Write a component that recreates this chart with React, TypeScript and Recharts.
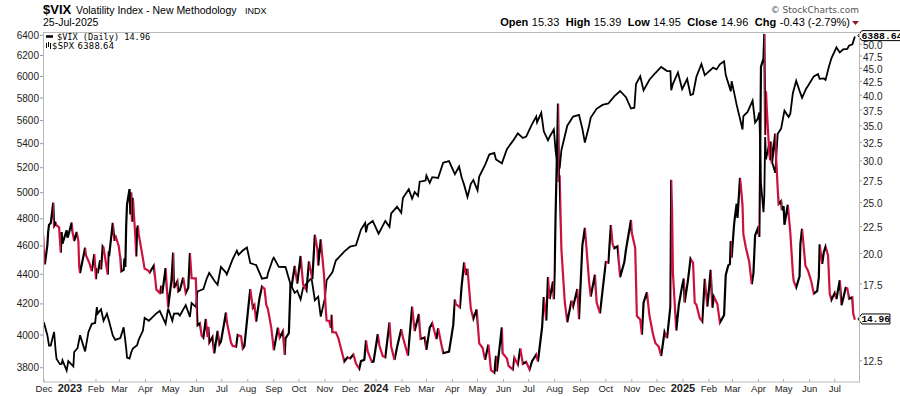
import React from 'react';
import { LineChart, Line, XAxis, YAxis, ReferenceDot } from 'recharts';

const FONT = '"Liberation Sans", Arial, sans-serif';
const RED = '#cc1040';

// ---------- $VIX daily closes (selected sessions) ----------
const vixDates = [
  '2022-11-29', '2022-11-30',
  '2022-12-01', '2022-12-02', '2022-12-05', '2022-12-06', '2022-12-07', '2022-12-09', '2022-12-12', '2022-12-13', '2022-12-15', '2022-12-16', '2022-12-19', '2022-12-21', '2022-12-22', '2022-12-23', '2022-12-28', '2022-12-29', '2022-12-30',
  '2023-01-03', '2023-01-04', '2023-01-06', '2023-01-09', '2023-01-11', '2023-01-12', '2023-01-13', '2023-01-19', '2023-01-20', '2023-01-24', '2023-01-27', '2023-01-30',
  '2023-02-01', '2023-02-02', '2023-02-03', '2023-02-06', '2023-02-07', '2023-02-09', '2023-02-10', '2023-02-15', '2023-02-16', '2023-02-17', '2023-02-21', '2023-02-23', '2023-02-24', '2023-02-28',
  '2023-03-02', '2023-03-03', '2023-03-06', '2023-03-07', '2023-03-08', '2023-03-09', '2023-03-10', '2023-03-13', '2023-03-14', '2023-03-15', '2023-03-16', '2023-03-17', '2023-03-20', '2023-03-21', '2023-03-22', '2023-03-23', '2023-03-24', '2023-03-28', '2023-03-31',
  '2023-04-04', '2023-04-06', '2023-04-11', '2023-04-14', '2023-04-18', '2023-04-20', '2023-04-21', '2023-04-25', '2023-04-28',
  '2023-05-02', '2023-05-04', '2023-05-05', '2023-05-09', '2023-05-10', '2023-05-12', '2023-05-16', '2023-05-19', '2023-05-22', '2023-05-24', '2023-05-26', '2023-05-31',
  '2023-06-02', '2023-06-05', '2023-06-07', '2023-06-09', '2023-06-12', '2023-06-14', '2023-06-15', '2023-06-16', '2023-06-20', '2023-06-22', '2023-06-26', '2023-06-28', '2023-06-30',
  '2023-07-06', '2023-07-07', '2023-07-12', '2023-07-14', '2023-07-18', '2023-07-20', '2023-07-24', '2023-07-26', '2023-07-28',
  '2023-08-02', '2023-08-04', '2023-08-07', '2023-08-09', '2023-08-11', '2023-08-15', '2023-08-18', '2023-08-21', '2023-08-23', '2023-08-25', '2023-08-29', '2023-08-31',
  '2023-09-01', '2023-09-06', '2023-09-08', '2023-09-12', '2023-09-14', '2023-09-15', '2023-09-19', '2023-09-21', '2023-09-22', '2023-09-26', '2023-09-29',
  '2023-10-03', '2023-10-06', '2023-10-10', '2023-10-13', '2023-10-17', '2023-10-20', '2023-10-23', '2023-10-24', '2023-10-27', '2023-10-31',
  '2023-11-02', '2023-11-03', '2023-11-06', '2023-11-08', '2023-11-09', '2023-11-10', '2023-11-14', '2023-11-17', '2023-11-22', '2023-11-24', '2023-11-28',
  '2023-12-01', '2023-12-05', '2023-12-08', '2023-12-12', '2023-12-14', '2023-12-18', '2023-12-20', '2023-12-22', '2023-12-27', '2023-12-29',
  '2024-01-03', '2024-01-05', '2024-01-09', '2024-01-12', '2024-01-17', '2024-01-19', '2024-01-23', '2024-01-26', '2024-01-31',
  '2024-02-02', '2024-02-08', '2024-02-13', '2024-02-16', '2024-02-21', '2024-02-23', '2024-02-28',
  '2024-03-01', '2024-03-05', '2024-03-08', '2024-03-13', '2024-03-15', '2024-03-21', '2024-03-28',
  '2024-04-02', '2024-04-04', '2024-04-05', '2024-04-10', '2024-04-12', '2024-04-15', '2024-04-17', '2024-04-19', '2024-04-23', '2024-04-26', '2024-04-30',
  '2024-05-03', '2024-05-07', '2024-05-10', '2024-05-14', '2024-05-17', '2024-05-21', '2024-05-23', '2024-05-24', '2024-05-30', '2024-05-31',
  '2024-06-05', '2024-06-07', '2024-06-12', '2024-06-14', '2024-06-18', '2024-06-21', '2024-06-24', '2024-06-28',
  '2024-07-02', '2024-07-05', '2024-07-10', '2024-07-12', '2024-07-17', '2024-07-19', '2024-07-22', '2024-07-24', '2024-07-26', '2024-07-30', '2024-07-31',
  '2024-08-01', '2024-08-02', '2024-08-05', '2024-08-06', '2024-08-07', '2024-08-08', '2024-08-09', '2024-08-13', '2024-08-16', '2024-08-21', '2024-08-23', '2024-08-28', '2024-08-30',
  '2024-09-03', '2024-09-06', '2024-09-09', '2024-09-11', '2024-09-13', '2024-09-18', '2024-09-20', '2024-09-24', '2024-09-27',
  '2024-10-01', '2024-10-04', '2024-10-07', '2024-10-09', '2024-10-11', '2024-10-15', '2024-10-18', '2024-10-23', '2024-10-25', '2024-10-31',
  '2024-11-01', '2024-11-05', '2024-11-07', '2024-11-11', '2024-11-13', '2024-11-15', '2024-11-19', '2024-11-22', '2024-11-26', '2024-11-29',
  '2024-12-03', '2024-12-06', '2024-12-10', '2024-12-13', '2024-12-17', '2024-12-18', '2024-12-19', '2024-12-20', '2024-12-24', '2024-12-27', '2024-12-31',
  '2025-01-02', '2025-01-03', '2025-01-07', '2025-01-10', '2025-01-13', '2025-01-15', '2025-01-17', '2025-01-21', '2025-01-24', '2025-01-27', '2025-01-30', '2025-01-31',
  '2025-02-03', '2025-02-05', '2025-02-07', '2025-02-11', '2025-02-14', '2025-02-19', '2025-02-21', '2025-02-24', '2025-02-26', '2025-02-27', '2025-02-28',
  '2025-03-03', '2025-03-04', '2025-03-06', '2025-03-07', '2025-03-10', '2025-03-11', '2025-03-13', '2025-03-14', '2025-03-17', '2025-03-19', '2025-03-21', '2025-03-24', '2025-03-26', '2025-03-28', '2025-03-31',
  '2025-04-02', '2025-04-03', '2025-04-04', '2025-04-07', '2025-04-08', '2025-04-09', '2025-04-10', '2025-04-11', '2025-04-14', '2025-04-15', '2025-04-16', '2025-04-17', '2025-04-21', '2025-04-22', '2025-04-24', '2025-04-25', '2025-04-28', '2025-04-29',
  '2025-05-01', '2025-05-02', '2025-05-06', '2025-05-09', '2025-05-12', '2025-05-13', '2025-05-16', '2025-05-20', '2025-05-21', '2025-05-23', '2025-05-27', '2025-05-30',
  '2025-06-03', '2025-06-06', '2025-06-10', '2025-06-12', '2025-06-13', '2025-06-16', '2025-06-18', '2025-06-20', '2025-06-23', '2025-06-25', '2025-06-27',
  '2025-07-01', '2025-07-03', '2025-07-07', '2025-07-09', '2025-07-11', '2025-07-14', '2025-07-16', '2025-07-18', '2025-07-22', '2025-07-23', '2025-07-25',
];
const vixValues = [
  21.89, 21.6,
  19.84, 19.06, 20.75, 22.0, 22.68, 22.83, 25.0, 22.55, 22.83, 22.62, 22.42, 20.07, 21.97, 20.87, 22.14, 21.44, 21.67,
  22.9, 22.01, 21.13, 21.97, 21.09, 18.83, 18.35, 20.52, 19.85, 19.2, 18.51, 19.94,
  17.87, 18.73, 18.33, 19.43, 18.66, 20.63, 20.53, 18.23, 20.17, 20.02, 22.87, 21.14, 21.67, 20.7,
  19.59, 18.49, 18.61, 19.59, 18.86, 22.61, 24.8, 26.52, 23.73, 26.14, 22.99, 25.51, 21.38, 19.75, 22.26, 22.61, 21.74, 19.97, 18.7,
  18.58, 18.4, 18.97, 17.07, 16.83, 17.37, 16.77, 18.76, 15.78,
  17.78, 20.09, 17.19, 17.71, 16.94, 17.03, 17.99, 16.81, 17.21, 20.03, 17.95, 17.94,
  14.6, 14.73, 13.94, 13.83, 15.01, 13.88, 14.5, 13.54, 13.88, 12.91, 14.25, 13.43, 13.59,
  15.44, 14.83, 13.54, 13.34, 13.3, 13.99, 13.91, 13.19, 13.33,
  15.99, 17.1, 15.77, 15.96, 14.84, 16.46, 17.3, 17.13, 15.98, 15.68, 14.45, 13.57,
  13.09, 14.45, 13.84, 14.23, 12.82, 13.79, 14.11, 17.54, 17.2, 18.94, 17.52,
  19.78, 17.45, 17.03, 19.32, 17.88, 21.71, 20.37, 18.97, 21.27, 18.14,
  15.66, 14.91, 14.89, 14.45, 15.29, 14.17, 14.16, 13.8, 12.85, 12.46, 12.69,
  12.63, 12.85, 12.35, 12.07, 12.48, 12.56, 13.67, 13.03, 12.43, 12.45,
  14.04, 13.35, 12.76, 12.7, 14.79, 13.3, 12.55, 13.26, 14.35,
  13.85, 12.79, 15.85, 14.24, 15.34, 13.75, 13.84,
  13.11, 14.46, 14.74, 13.75, 14.41, 12.92, 13.01,
  14.61, 16.35, 16.03, 15.8, 17.31, 19.23, 18.21, 18.71, 15.69, 15.03, 15.65,
  13.49, 13.23, 12.55, 13.42, 11.99, 11.86, 12.77, 11.93, 14.47, 12.92,
  12.63, 12.22, 12.04, 12.66, 12.3, 13.2, 12.33, 12.44,
  12.03, 12.48, 12.85, 12.46, 14.48, 16.52, 14.91, 18.04, 16.39, 17.69, 16.36,
  18.59, 23.39, 38.57, 27.71, 27.85, 23.79, 20.37, 16.19, 14.8, 16.27, 15.86, 17.11, 15.0,
  20.72, 22.38, 19.45, 17.69, 16.56, 18.23, 16.15, 15.39, 16.96,
  19.26, 19.21, 22.64, 20.86, 20.46, 20.64, 18.03, 19.24, 20.33, 23.16,
  21.88, 20.49, 15.2, 14.97, 14.02, 16.14, 16.87, 15.24, 14.1, 13.51,
  13.3, 12.77, 14.18, 13.81, 15.87, 27.62, 24.09, 18.36, 14.27, 15.95, 17.35,
  17.93, 16.13, 17.82, 19.54, 19.19, 16.12, 15.97, 15.06, 14.85, 17.9, 15.84, 16.43,
  18.62, 15.77, 16.54, 16.02, 14.77, 15.27, 18.21, 18.98, 19.1, 21.13, 19.63,
  22.78, 23.51, 24.87, 23.37, 27.86, 26.92, 24.66, 21.77, 20.51, 19.9, 19.28, 17.48, 18.33, 21.65, 22.28,
  21.51, 30.02, 45.31, 46.98, 52.33, 33.62, 40.72, 37.56, 30.89, 30.12, 32.64, 29.65, 33.82, 30.57, 26.47, 24.84, 25.15, 24.17,
  24.6, 22.68, 24.76, 21.9, 18.39, 17.72, 17.24, 18.09, 20.87, 22.29, 18.96, 18.57,
  17.69, 16.77, 16.95, 18.02, 20.82, 19.11, 20.14, 20.62, 19.83, 16.76, 16.32,
  16.83, 16.38, 17.79, 15.94, 16.4, 17.2, 17.16, 16.41, 16.5, 15.37, 14.96,
];

// ---------- $SPX (selected sessions) ----------
const spxDates = [
  '2022-11-29', '2022-11-30',
  '2022-12-01', '2022-12-05', '2022-12-07', '2022-12-09', '2022-12-13', '2022-12-15', '2022-12-16', '2022-12-20', '2022-12-22', '2022-12-23', '2022-12-28', '2022-12-30',
  '2023-01-05', '2023-01-06', '2023-01-10', '2023-01-13', '2023-01-19', '2023-01-23', '2023-01-27', '2023-01-31',
  '2023-02-02', '2023-02-03', '2023-02-07', '2023-02-10', '2023-02-14', '2023-02-17', '2023-02-21', '2023-02-24',
  '2023-03-02', '2023-03-06', '2023-03-09', '2023-03-10', '2023-03-13', '2023-03-15', '2023-03-17', '2023-03-22', '2023-03-24', '2023-03-29', '2023-03-31',
  '2023-04-05', '2023-04-14', '2023-04-18', '2023-04-25', '2023-04-28',
  '2023-05-03', '2023-05-05', '2023-05-10', '2023-05-12', '2023-05-19', '2023-05-24', '2023-05-26', '2023-05-31',
  '2023-06-02', '2023-06-09', '2023-06-13', '2023-06-16', '2023-06-23', '2023-06-26', '2023-06-30',
  '2023-07-06', '2023-07-07', '2023-07-14', '2023-07-19', '2023-07-21', '2023-07-26', '2023-07-31',
  '2023-08-04', '2023-08-09', '2023-08-11', '2023-08-18', '2023-08-24', '2023-08-25', '2023-08-31',
  '2023-09-01', '2023-09-07', '2023-09-15', '2023-09-21', '2023-09-26', '2023-09-29',
  '2023-10-03', '2023-10-06', '2023-10-12', '2023-10-16', '2023-10-20', '2023-10-24', '2023-10-27',
  '2023-11-01', '2023-11-03', '2023-11-10', '2023-11-14', '2023-11-17', '2023-11-24',
  '2023-12-01', '2023-12-08', '2023-12-14', '2023-12-19', '2023-12-20', '2023-12-22', '2023-12-28',
  '2024-01-04', '2024-01-12', '2024-01-17', '2024-01-19', '2024-01-26', '2024-01-31',
  '2024-02-02', '2024-02-09', '2024-02-13', '2024-02-16', '2024-02-20', '2024-02-22', '2024-02-29',
  '2024-03-01', '2024-03-05', '2024-03-08', '2024-03-15', '2024-03-21', '2024-03-28',
  '2024-04-04', '2024-04-09', '2024-04-12', '2024-04-15', '2024-04-19', '2024-04-23', '2024-04-26',
  '2024-05-01', '2024-05-03', '2024-05-10', '2024-05-15', '2024-05-21', '2024-05-23', '2024-05-30',
  '2024-06-05', '2024-06-12', '2024-06-18', '2024-06-24', '2024-06-28',
  '2024-07-05', '2024-07-10', '2024-07-11', '2024-07-16', '2024-07-19', '2024-07-24', '2024-07-26', '2024-07-31',
  '2024-08-02', '2024-08-05', '2024-08-07', '2024-08-09', '2024-08-16', '2024-08-23', '2024-08-30',
  '2024-09-03', '2024-09-06', '2024-09-11', '2024-09-13', '2024-09-20', '2024-09-27',
  '2024-10-04', '2024-10-11', '2024-10-18', '2024-10-25', '2024-10-31',
  '2024-11-04', '2024-11-06', '2024-11-11', '2024-11-15', '2024-11-22', '2024-11-29',
  '2024-12-06', '2024-12-13', '2024-12-17', '2024-12-18', '2024-12-20', '2024-12-26', '2024-12-31',
  '2025-01-06', '2025-01-10', '2025-01-13', '2025-01-17', '2025-01-23', '2025-01-27', '2025-01-31',
  '2025-02-06', '2025-02-10', '2025-02-14', '2025-02-19', '2025-02-21', '2025-02-27', '2025-02-28',
  '2025-03-03', '2025-03-06', '2025-03-10', '2025-03-13', '2025-03-14', '2025-03-19', '2025-03-25', '2025-03-28', '2025-03-31',
  '2025-04-02', '2025-04-03', '2025-04-04', '2025-04-07', '2025-04-08', '2025-04-09', '2025-04-10', '2025-04-14', '2025-04-16', '2025-04-21', '2025-04-24', '2025-04-28',
  '2025-05-02', '2025-05-07', '2025-05-09', '2025-05-12', '2025-05-16', '2025-05-21', '2025-05-23', '2025-05-28', '2025-05-30',
  '2025-06-06', '2025-06-11', '2025-06-13', '2025-06-18', '2025-06-20', '2025-06-24', '2025-06-27',
  '2025-07-03', '2025-07-07', '2025-07-11', '2025-07-16', '2025-07-18', '2025-07-22', '2025-07-25',
];
const spxValues = [
  3957.6, 4080.1,
  4076.6, 3998.8, 3933.9, 3934.4, 4019.7, 3895.8, 3852.4, 3821.6, 3822.4, 3844.8, 3783.2, 3839.5,
  3808.1, 3895.1, 3919.3, 3999.1, 3898.9, 4019.8, 4070.6, 4076.6,
  4179.8, 4136.5, 4164.0, 4090.5, 4136.1, 4079.1, 3997.3, 3970.0,
  3981.4, 4048.4, 3918.3, 3861.6, 3855.8, 3891.9, 3916.6, 3936.9, 3970.9, 4027.8, 4109.3,
  4090.4, 4137.6, 4154.9, 4071.6, 4169.5,
  4090.8, 4136.3, 4137.6, 4124.1, 4191.9, 4115.2, 4205.5, 4179.8,
  4282.4, 4298.9, 4369.0, 4409.6, 4348.3, 4328.8, 4450.4,
  4411.6, 4398.9, 4505.4, 4565.7, 4536.3, 4566.8, 4588.9,
  4478.0, 4467.7, 4464.1, 4369.7, 4376.3, 4405.7, 4507.7,
  4515.8, 4451.1, 4450.3, 4330.0, 4273.5, 4288.1,
  4229.5, 4308.5, 4349.6, 4373.6, 4224.2, 4247.7, 4117.4,
  4237.9, 4358.3, 4415.2, 4495.7, 4514.0, 4559.3,
  4594.6, 4604.4, 4719.6, 4768.4, 4698.4, 4754.6, 4783.4,
  4688.7, 4783.8, 4739.2, 4839.8, 4890.9, 4845.7,
  4958.6, 5026.6, 4953.2, 5005.6, 4975.5, 5087.0, 5096.3,
  5137.1, 5078.7, 5123.7, 5117.1, 5241.5, 5254.4,
  5147.2, 5209.9, 5123.4, 5061.8, 4967.2, 5070.6, 5100.0,
  5018.4, 5127.8, 5222.7, 5308.2, 5321.4, 5267.8, 5235.5,
  5354.0, 5421.0, 5487.0, 5447.9, 5460.5,
  5567.2, 5633.9, 5584.5, 5667.2, 5505.0, 5427.1, 5459.1, 5522.3,
  5346.6, 5186.3, 5199.5, 5344.2, 5554.3, 5634.6, 5648.4,
  5528.9, 5408.4, 5554.1, 5626.0, 5702.6, 5738.2,
  5751.1, 5815.0, 5864.7, 5808.1, 5705.5,
  5712.7, 5929.0, 6001.4, 5870.6, 5969.3, 6032.4,
  6090.3, 6051.1, 6050.6, 5872.2, 5930.9, 6037.6, 5881.6,
  5975.4, 5827.0, 5836.2, 5996.7, 6118.7, 6012.3, 6040.5,
  6083.6, 6066.4, 6114.6, 6144.2, 6013.1, 5861.6, 5954.5,
  5849.7, 5738.5, 5614.6, 5521.5, 5638.9, 5675.3, 5776.7, 5580.9, 5611.9,
  5671.0, 5396.5, 5074.1, 4850.0, 4982.8, 5456.9, 5268.1, 5406.0, 5275.7, 5158.2, 5484.8, 5528.8,
  5686.7, 5631.3, 5659.9, 5844.2, 5958.4, 5844.6, 5802.8, 5888.6, 5911.7,
  6000.4, 6022.2, 5977.0, 5980.9, 5967.8, 6092.2, 6173.1,
  6279.4, 6230.0, 6259.8, 6263.7, 6296.8, 6309.6, 6388.64,
];

// ---------- axes ----------
const monthTickDates = [
  '2022-12-01', '2023-01-01', '2023-02-01', '2023-03-01', '2023-04-01', '2023-05-01', '2023-06-01', '2023-07-01',
  '2023-08-01', '2023-09-01', '2023-10-01', '2023-11-01', '2023-12-01', '2024-01-01', '2024-02-01', '2024-03-01',
  '2024-04-01', '2024-05-01', '2024-06-01', '2024-07-01', '2024-08-01', '2024-09-01', '2024-10-01', '2024-11-01',
  '2024-12-01', '2025-01-01', '2025-02-01', '2025-03-01', '2025-04-01', '2025-05-01', '2025-06-01', '2025-07-01',
];
const monthTickLabels = [
  'Dec', '2023', 'Feb', 'Mar', 'Apr', 'May', 'Jun', 'Jul',
  'Aug', 'Sep', 'Oct', 'Nov', 'Dec', '2024', 'Feb', 'Mar',
  'Apr', 'May', 'Jun', 'Jul', 'Aug', 'Sep', 'Oct', 'Nov',
  'Dec', '2025', 'Feb', 'Mar', 'Apr', 'May', 'Jun', 'Jul',
];
const spxTicks = [3800, 4000, 4200, 4400, 4600, 4800, 5000, 5200, 5400, 5600, 5800, 6000, 6200, 6400];
const vixTicks = [12.5, 17.5, 20, 22.5, 25, 27.5, 30, 32.5, 35, 37.5, 40, 42.5, 45, 47.5, 50];

// ---------- derived ----------
const ORIGIN = Date.UTC(2022, 11, 1);
const dayOf = (s: string) => {
  const [y, m, d] = s.split('-').map(Number);
  return (Date.UTC(y, m - 1, d) - ORIGIN) / 86400000;
};
const vixData = vixDates.map((d, i) => ({ t: dayOf(d), vix: vixValues[i] }));
const spxData = spxDates.map((d, i) => ({ t: dayOf(d), spx: spxValues[i] }));
const tickDays = monthTickDates.map(dayOf);

const lastVix = vixData[vixData.length - 1];
const lastSpx = spxData[spxData.length - 1];

// gradient stops colour each segment: black when VIX rises, red when it falls
const t0 = vixData[0].t;
const tSpan = lastVix.t - t0;
const gradStops: React.ReactNode[] = [];
for (let i = 0; i < vixData.length - 1; i++) {
  const c = vixData[i + 1].vix > vixData[i].vix ? '#000000' : RED;
  const a = (vixData[i].t - t0) / tSpan;
  const b = (vixData[i + 1].t - t0) / tSpan;
  gradStops.push(<stop key={`a${i}`} offset={a} stopColor={c} />);
  gradStops.push(<stop key={`b${i}`} offset={b} stopColor={c} />);
}

const MonthTick = (props: any) => {
  const { x, y, payload } = props;
  const idx = tickDays.indexOf(payload.value);
  const label = monthTickLabels[idx] ?? '';
  const isYear = /^\d{4}$/.test(label);
  return (
    <g>
      <line x1={x} x2={x} y1={y - 3} y2={y} stroke="#aaa" />
      <text
        x={x}
        y={y + 10}
        textAnchor="middle"
        fontSize={isYear ? 11 : 9.5}
        fontWeight={isYear ? 'bold' : 'normal'}
        fill="#222"
        fontFamily={FONT}
      >
        {label}
      </text>
    </g>
  );
};

const makeTag = (txt: string, w: number, fs: number) => (props: any) => {
  const { cx, cy } = props;
  if (cx == null || cy == null) return null;
  const x0 = cx + 3;
  const h = 5;
  const yc = cy - 0.8;
  return (
    <g>
      <path
        d={`M${x0},${yc} L${x0 + 4},${yc - h} L${x0 + 4 + w},${yc - h} L${x0 + 4 + w},${yc + h} L${x0 + 4},${yc + h} Z`}
        fill="#fff"
        stroke="#000"
        strokeWidth={1}
      />
      <text x={x0 + 3.5} y={yc + 3.4} fontSize={fs} fontWeight="bold" fontFamily='"Liberation Mono", "DejaVu Sans Mono", monospace' fill="#000">
        {txt}
      </text>
    </g>
  );
};

export default function App() {
  return (
    <div style={{ position: 'absolute', left: 0, top: 0, width: 900, height: 396, background: '#fff', overflow: 'hidden' }}>
      <LineChart width={900} height={396} margin={{ top: 32, right: 0, bottom: 0, left: 0 }}>
        <defs>
          <linearGradient id="vixDir" x1="0" y1="0" x2="1" y2="0">
            {gradStops}
          </linearGradient>
        </defs>
        <XAxis
          type="number"
          dataKey="t"
          domain={[-1.2, 971.9]}
          allowDataOverflow
          ticks={tickDays}
          interval={0}
          tick={<MonthTick />}
          tickLine={false}
          axisLine={false}
          tickSize={0}
          tickMargin={0}
          height={14}
        />
        <YAxis
          yAxisId="spx"
          orientation="left"
          scale="log"
          domain={[3716, 6433]}
          allowDataOverflow
          ticks={spxTicks}
          interval={0}
          width={43}
          tickSize={3}
          tickMargin={1}
          axisLine={false}
          tickLine={{ stroke: '#999' }}
          tick={{ fontSize: 10, fill: '#222', fontFamily: FONT }}
        />
        <YAxis
          yAxisId="vix"
          orientation="right"
          scale="log"
          domain={[11.39, 52.77]}
          allowDataOverflow
          ticks={vixTicks}
          interval={0}
          width={41}
          tickSize={3}
          tickMargin={1}
          axisLine={false}
          tickLine={{ stroke: '#999' }}
          tick={{ fontSize: 10, fill: '#222', fontFamily: FONT, dy: 1 }}
          tickFormatter={(v: number) => v.toFixed(1)}
        />
        <Line
          yAxisId="spx"
          data={spxData}
          dataKey="spx"
          type="linear"
          stroke="#000"
          strokeWidth={1.8}
          dot={false}
          activeDot={false}
          isAnimationActive={false}
        />
        <Line
          yAxisId="vix"
          data={vixData}
          dataKey="vix"
          type="linear"
          stroke="url(#vixDir)"
          strokeWidth={2.2}
          dot={false}
          activeDot={false}
          isAnimationActive={false}
        />
        <ReferenceDot yAxisId="spx" x={lastSpx.t} y={lastSpx.spx} r={0} shape={makeTag(lastSpx.spx.toFixed(2), 44, 9.8)} />
        <ReferenceDot yAxisId="vix" x={lastVix.t} y={lastVix.vix} r={0} shape={makeTag(lastVix.vix.toFixed(2), 28, 9.5)} />
      </LineChart>

      <svg width={900} height={396} style={{ position: 'absolute', left: 0, top: 0, pointerEvents: 'none' }}>
        <rect x={43.5} y={32.5} width={816} height={349.5} fill="none" stroke="#b8b8b8" strokeWidth={1} />
        <text x={43} y={14} fontFamily={FONT} fontSize={13} fontWeight="bold" fill="#000">$VIX</text>
        <text x={76} y={14} fontFamily={FONT} fontSize={10.5} fill="#000">Volatility Index - New Methodology</text>
        <text x={245} y={14} fontFamily={FONT} fontSize={9} fill="#000">INDX</text>
        <text x={43} y={26} fontFamily={FONT} fontSize={10.5} fill="#000">25-Jul-2025</text>
        <text x={859} y={12.5} textAnchor="end" fontFamily='"DejaVu Sans", Verdana, sans-serif' fontSize={9} fill="#555">© StockCharts.com</text>
        <text x={850} y={25.5} textAnchor="end" fontFamily={FONT} fontSize={11} fill="#000">
          <tspan fontWeight="bold">Open</tspan>
          <tspan dx={3.5}>15.33</tspan>
          <tspan dx={6.5} fontWeight="bold">High</tspan>
          <tspan dx={3.5}>15.39</tspan>
          <tspan dx={6.5} fontWeight="bold">Low</tspan>
          <tspan dx={3.5}>14.95</tspan>
          <tspan dx={6.5} fontWeight="bold">Close</tspan>
          <tspan dx={3.5}>14.96</tspan>
          <tspan dx={6.5} fontWeight="bold">Chg</tspan>
          <tspan dx={3.5}>-0.43</tspan>
          <tspan dx={3}>(-2.79%)</tspan>
        </text>
        <polygon points="852,21 859,21 855.5,25" fill="#8b1a2b" />
        {/* legend */}
        <line x1={46} x2={53} y1={36.5} y2={36.5} stroke="#000" strokeWidth={2.5} />
        <text x={57} y={40} fontFamily='"DejaVu Sans Mono", monospace' fontSize={8.6} fill="#000">$VIX (Daily) 14.96</text>
        <g stroke="#000" strokeWidth={1}>
          <line x1={46.5} x2={46.5} y1={43} y2={48} />
          <line x1={48.5} x2={48.5} y1={42} y2={47} />
          <line x1={50.5} x2={50.5} y1={43} y2={49} />
        </g>
        <text x={52} y={48.5} fontFamily='"DejaVu Sans", sans-serif' fontSize={8.4} letterSpacing={0.3} fill="#000">$SPX 6388.64</text>
      </svg>
    </div>
  );
}
